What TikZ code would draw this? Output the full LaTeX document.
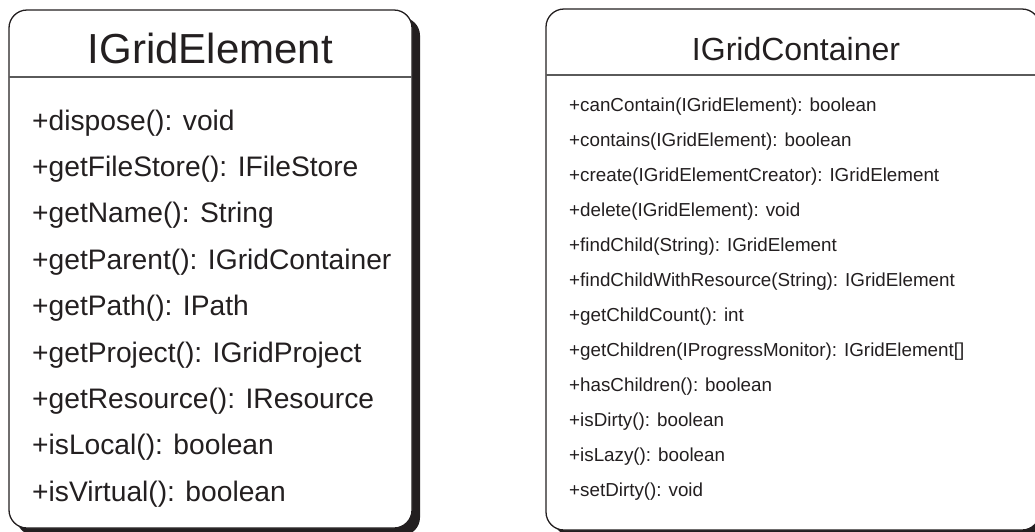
\documentclass[tikz,border=0pt]{standalone}
\usepackage{fontspec}
\setmainfont{Liberation Sans}
\definecolor{ink}{HTML}{231F20}
\definecolor{rule}{HTML}{5A5A5A}
\begin{document}
\begin{tikzpicture}[x=1pt,y=-1pt,
  classbox/.style={draw=ink,line width=1.3pt,fill=white,rounded corners=18pt},
  shadowbox/.style={fill=ink,rounded corners=18pt},
  divider/.style={draw=rule,line width=1.2pt},
  titleL/.style={anchor=base,inner sep=0pt,text=ink,font=\fontsize{42}{42}\selectfont},
  titleR/.style={anchor=base,inner sep=0pt,text=ink,font=\fontsize{32}{32}\selectfont},
  opL/.style={anchor=base west,inner sep=0pt,text=ink,font=\fontsize{28.2}{28.2}\selectfont},
  opR/.style={anchor=base west,inner sep=0pt,text=ink,font=\fontsize{18.8}{18.8}\selectfont}]
\useasboundingbox (0,0) rectangle (1035,531);
\clip (0,0) rectangle (1035,531);

% IGridElement
\fill[shadowbox] (16.5,17.5) rectangle (420,535.5);
\draw[classbox] (9,10) rectangle (412,528);
\draw[divider] (9,77) -- (412,77);
\node[titleL] (ge) at (210.5,63) {IGridElement};
\foreach \t [count=\i from 0] in {
  {+dispose(): void},
  {+getFileStore(): IFileStore},
  {+getName(): String},
  {+getParent(): IGridContainer},
  {+getPath(): IPath},
  {+getProject(): IGridProject},
  {+getResource(): IResource},
  {+isLocal(): boolean},
  {+isVirtual(): boolean}}
  \node[opL] (ge\i) at (32,130+46.4*\i) {\t};

% IGridContainer
\fill[shadowbox] (553.5,16.5) rectangle (1045,536);
\draw[classbox] (546,9) rectangle (1040,530);
\draw[divider] (546,75) -- (1040,75);
\node[titleR] (gc) at (796,60) {IGridContainer};
\foreach \t [count=\i from 0] in {
  {+canContain(IGridElement): boolean},
  {+contains(IGridElement): boolean},
  {+create(IGridElementCreator): IGridElement},
  {+delete(IGridElement): void},
  {+findChild(String): IGridElement},
  {+findChildWithResource(String): IGridElement},
  {+getChildCount(): int},
  {+getChildren(IProgressMonitor): IGridElement[]},
  {+hasChildren(): boolean},
  {+isDirty(): boolean},
  {+isLazy(): boolean},
  {+setDirty(): void}}
  \node[opR] (gc\i) at (569,111+35*\i) {\t};
\end{tikzpicture}
\end{document}
